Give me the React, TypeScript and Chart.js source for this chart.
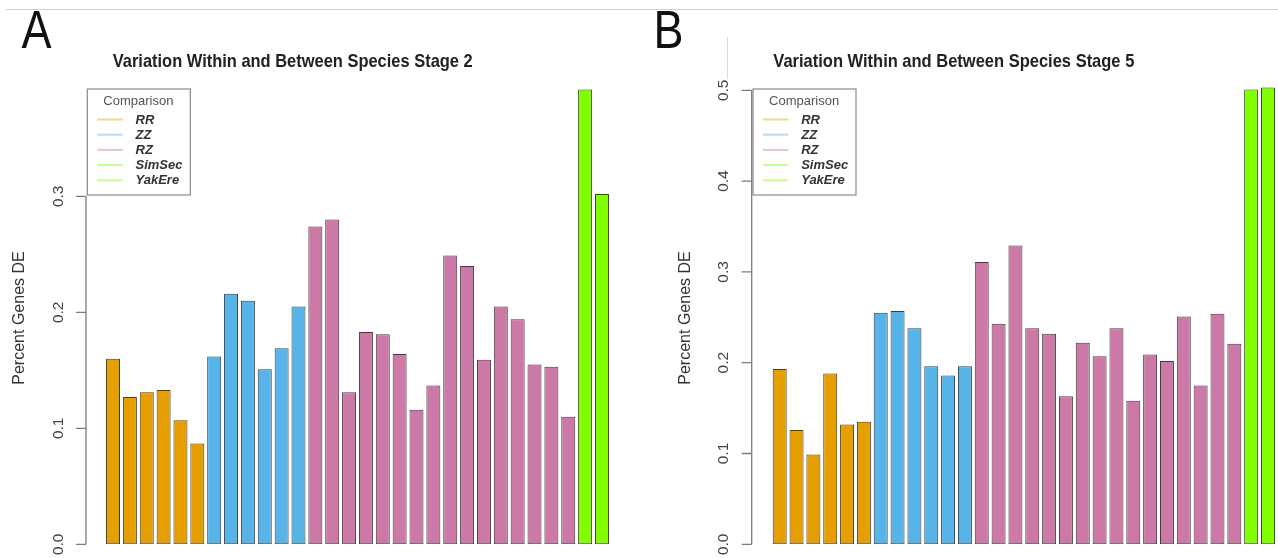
import React, { useEffect, useRef } from "react";
import { Chart, registerables } from "chart.js";

Chart.register(...registerables);

// Comparison groups and their bar colours
const groupNames = ["RR", "ZZ", "RZ", "SimSec", "YakEre"];
const groupColors = ["#E69F00", "#56B4E9", "#CC79A7", "#7FFF00", "#7FFF00"];
const legendLineColors = [
  "rgba(230,159,0,0.45)",
  "rgba(86,180,233,0.45)",
  "rgba(204,121,167,0.45)",
  "rgba(127,255,0,0.45)",
  "rgba(127,255,0,0.45)",
];

// Stage 2: fraction of genes differentially expressed per comparison
const rrStage2 = [0.16, 0.127, 0.131, 0.133, 0.107, 0.087];
const zzStage2 = [0.162, 0.216, 0.21, 0.151, 0.169, 0.205];
const rzStage2 = [
  0.274, 0.28, 0.131, 0.183, 0.181, 0.164, 0.116, 0.137, 0.249, 0.24, 0.159,
  0.205, 0.194, 0.155, 0.153, 0.11,
];
const simSecStage2 = [0.392];
const yakEreStage2 = [0.302];
const stage2Ticks = ["0.0", "0.1", "0.2", "0.3"];

// Stage 5
const rrStage5 = [0.193, 0.126, 0.099, 0.188, 0.132, 0.135];
const zzStage5 = [0.255, 0.257, 0.238, 0.196, 0.186, 0.196];
const rzStage5 = [
  0.311, 0.243, 0.329, 0.238, 0.232, 0.163, 0.222, 0.207, 0.238, 0.158, 0.209,
  0.202, 0.251, 0.175, 0.254, 0.221,
];
const simSecStage5 = [0.501];
const yakEreStage5 = [0.503];
const stage5Ticks = ["0.0", "0.1", "0.2", "0.3", "0.4", "0.5"];

const FONT = '"Liberation Sans", Arial, Helvetica, sans-serif';

function buildBars(groups: number[][]) {
  const labels: string[] = [];
  const values: number[] = [];
  const colors: string[] = [];
  groups.forEach((vals, gi) => {
    vals.forEach((v, i) => {
      labels.push(`${groupNames[gi]} ${i + 1}`);
      values.push(v);
      colors.push(groupColors[gi]);
    });
  });
  return { labels, values, colors };
}

// R-style decorations: detached y axis, rotated labels, title, panel letter, boxed legend
const panelDecor = {
  id: "panelDecor",
  afterDraw(chart: any, _args: any, o: any) {
    const ctx: CanvasRenderingContext2D = chart.ctx;
    const ys = chart.scales.y;
    const ax: number = o.axisX;
    const ticks: string[] = o.ticks;
    ctx.save();

    // axis line and tick marks
    const yStart = ys.getPixelForValue(Number(ticks[0]));
    const yEnd = ys.getPixelForValue(Number(ticks[ticks.length - 1]));
    ctx.strokeStyle = "#7c7c7c";
    ctx.lineWidth = 1.3;
    ctx.beginPath();
    ctx.moveTo(ax, yStart);
    ctx.lineTo(ax, yEnd);
    ticks.forEach((t) => {
      const py = ys.getPixelForValue(Number(t));
      ctx.moveTo(ax - 10, py);
      ctx.lineTo(ax, py);
    });
    ctx.stroke();

    // tick labels, rotated
    ctx.fillStyle = "#444";
    ctx.font = `15.5px ${FONT}`;
    ctx.textAlign = "center";
    ctx.textBaseline = "alphabetic";
    ticks.forEach((t) => {
      const py = ys.getPixelForValue(Number(t));
      ctx.save();
      ctx.translate(ax - 23.5, py);
      ctx.rotate(-Math.PI / 2);
      ctx.fillText(t, 0, 0);
      ctx.restore();
    });

    // y axis title
    ctx.fillStyle = "#333";
    ctx.font = `16px ${FONT}`;
    ctx.save();
    ctx.translate(ax - 62, 318);
    ctx.rotate(-Math.PI / 2);
    ctx.fillText(o.yTitle, 0, 0);
    ctx.restore();

    // main title
    ctx.fillStyle = "#222";
    ctx.font = `bold 18.5px ${FONT}`;
    const tw = ctx.measureText(o.title).width;
    ctx.save();
    ctx.translate(o.titleX, 66.7);
    ctx.scale(o.titleWidth / tw, 1);
    ctx.fillText(o.title, 0, 0);
    ctx.restore();

    // panel letter
    ctx.fillStyle = "#111";
    ctx.font = `53px ${FONT}`;
    ctx.textAlign = "left";
    ctx.save();
    ctx.translate(o.letterX, 48);
    ctx.scale(0.85, 1);
    ctx.fillText(o.letter, 0, 0);
    ctx.restore();

    // legend box
    const bx = ax + 1.3;
    ctx.strokeStyle = "#8a8a8a";
    ctx.lineWidth = 1.2;
    ctx.strokeRect(bx, 89, 103, 106);
    ctx.fillStyle = "#555";
    ctx.font = `13px ${FONT}`;
    ctx.textAlign = "center";
    ctx.fillText("Comparison", ax + 52.4, 104.5);
    ctx.textAlign = "left";
    ctx.textBaseline = "middle";
    ctx.font = `italic bold 13px ${FONT}`;
    ctx.lineWidth = 2;
    groupNames.forEach((name, i) => {
      const ry = 119.5 + i * 15.2;
      ctx.strokeStyle = legendLineColors[i];
      ctx.beginPath();
      ctx.moveTo(ax + 11.3, ry);
      ctx.lineTo(ax + 36.7, ry);
      ctx.stroke();
      ctx.fillStyle = "#333";
      ctx.fillText(name, ax + 49.5, ry + 0.5);
    });

    ctx.restore();
  },
};

interface PanelProps {
  groups: number[][];
  ticks: string[];
  yMax: number;
  width: number;
  padLeft: number;
  padRight: number;
  padTop: number;
  decor: any;
}

function Panel({ groups, ticks, yMax, width, padLeft, padRight, padTop, decor }: PanelProps) {
  const ref = useRef<HTMLCanvasElement | null>(null);
  useEffect(() => {
    if (!ref.current) return;
    const { labels, values, colors } = buildBars(groups);
    const chart = new Chart(ref.current, {
      type: "bar",
      data: {
        labels,
        datasets: [
          {
            data: values,
            backgroundColor: colors,
            borderColor: "#3d3d3d",
            borderWidth: 1,
            borderSkipped: false,
            barPercentage: 0.83,
            categoryPercentage: 1,
          },
        ],
      },
      options: {
        animation: false,
        responsive: false,
        maintainAspectRatio: false,
        events: [],
        layout: {
          padding: { left: padLeft, right: padRight, top: padTop, bottom: 13.7 },
        },
        scales: {
          x: { display: false },
          y: { display: false, min: 0, max: yMax },
        },
        plugins: {
          legend: { display: false },
          tooltip: { enabled: false },
          title: { display: false },
          panelDecor: { ...decor, ticks },
        } as any,
      },
      plugins: [panelDecor],
    });
    return () => chart.destroy();
  }, []);
  return <canvas ref={ref} width={width} height={558} style={{ display: "block" }} />;
}

export default function App() {
  return (
    <div
      style={{
        position: "fixed",
        left: 0,
        top: 0,
        width: 1278,
        height: 558,
        background: "#fff",
        overflow: "hidden",
      }}
    >
      <div style={{ position: "absolute", left: 6, top: 9, width: 1272, height: 1, background: "#d2d2d2" }} />
      <div style={{ position: "absolute", left: 727, top: 37, width: 1, height: 42, background: "#dadada" }} />
      <div style={{ position: "absolute", left: 0, top: 0 }}>
        <Panel
          groups={[rrStage2, zzStage2, rzStage2, simSecStage2, yakEreStage2]}
          ticks={stage2Ticks}
          yMax={0.41}
          width={640}
          padLeft={104.6}
          padRight={29.6}
          padTop={544.3 - 0.41 * 1160}
          decor={{
            axisX: 86,
            title: "Variation Within and Between Species Stage 2",
            titleX: 292.7,
            titleWidth: 360,
            letter: "A",
            letterX: 21.5,
            yTitle: "Percent Genes DE",
          }}
        />
      </div>
      <div style={{ position: "absolute", left: 640, top: 0 }}>
        <Panel
          groups={[rrStage5, zzStage5, rzStage5, simSecStage5, yakEreStage5]}
          ticks={stage5Ticks}
          yMax={0.52}
          width={638}
          padLeft={131.3}
          padRight={1.6}
          padTop={544.3 - 0.52 * 908}
          decor={{
            axisX: 111.7,
            title: "Variation Within and Between Species Stage 5",
            titleX: 313.8,
            titleWidth: 361,
            letter: "B",
            letterX: 13.4,
            yTitle: "Percent Genes DE",
          }}
        />
      </div>
    </div>
  );
}
